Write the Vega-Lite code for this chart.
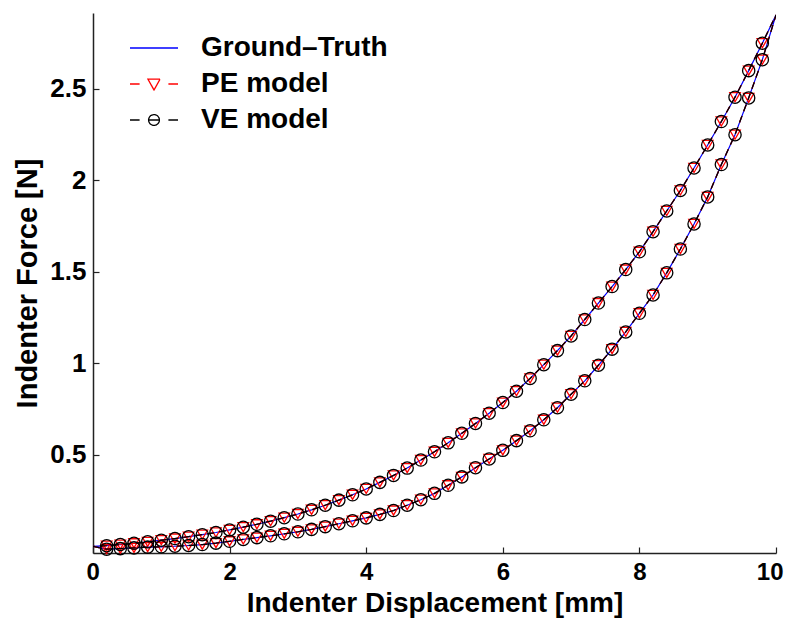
{
  "$schema": "https://vega.github.io/schema/vega-lite/v6.json",
  "width": 683,
  "height": 540,
  "autosize": {"type": "none"},
  "padding": {"left": 93, "top": 13, "right": 24, "bottom": 83},
  "background": "white",
  "config": {
    "view": {"stroke": null},
    "font": "Liberation Sans",
    "axis": {
      "domainColor": "#222222",
      "domainWidth": 1.5,
      "tickColor": "#222222",
      "tickWidth": 1.2,
      "grid": false,
      "labelFont": "Liberation Sans",
      "labelFontWeight": "bold",
      "labelFontSize": 26,
      "labelColor": "black",
      "titleFont": "Liberation Sans",
      "titleFontWeight": "bold",
      "titleFontSize": 28,
      "titleColor": "black"
    }
  },
  "data": {
    "values": [
      {"i": 0, "x": 0.0, "F": 0.000},
      {"i": 1, "x": 0.2, "F": -0.015},
      {"i": 2, "x": 0.4, "F": -0.012},
      {"i": 3, "x": 0.6, "F": -0.008},
      {"i": 4, "x": 0.8, "F": -0.004},
      {"i": 5, "x": 1.0, "F": -0.002},
      {"i": 6, "x": 1.2, "F": 0.001},
      {"i": 7, "x": 1.4, "F": 0.005},
      {"i": 8, "x": 1.6, "F": 0.010},
      {"i": 9, "x": 1.8, "F": 0.018},
      {"i": 10, "x": 2.0, "F": 0.028},
      {"i": 11, "x": 2.2, "F": 0.038},
      {"i": 12, "x": 2.4, "F": 0.048},
      {"i": 13, "x": 2.6, "F": 0.058},
      {"i": 14, "x": 2.8, "F": 0.069},
      {"i": 15, "x": 3.0, "F": 0.080},
      {"i": 16, "x": 3.2, "F": 0.093},
      {"i": 17, "x": 3.4, "F": 0.108},
      {"i": 18, "x": 3.6, "F": 0.124},
      {"i": 19, "x": 3.8, "F": 0.140},
      {"i": 20, "x": 4.0, "F": 0.156},
      {"i": 21, "x": 4.2, "F": 0.175},
      {"i": 22, "x": 4.4, "F": 0.196},
      {"i": 23, "x": 4.6, "F": 0.225},
      {"i": 24, "x": 4.8, "F": 0.255},
      {"i": 25, "x": 5.0, "F": 0.290},
      {"i": 26, "x": 5.2, "F": 0.334},
      {"i": 27, "x": 5.4, "F": 0.380},
      {"i": 28, "x": 5.6, "F": 0.430},
      {"i": 29, "x": 5.8, "F": 0.478},
      {"i": 30, "x": 6.0, "F": 0.525},
      {"i": 31, "x": 6.2, "F": 0.578},
      {"i": 32, "x": 6.4, "F": 0.632},
      {"i": 33, "x": 6.6, "F": 0.692},
      {"i": 34, "x": 6.8, "F": 0.758},
      {"i": 35, "x": 7.0, "F": 0.832},
      {"i": 36, "x": 7.2, "F": 0.905},
      {"i": 37, "x": 7.4, "F": 0.990},
      {"i": 38, "x": 7.6, "F": 1.078},
      {"i": 39, "x": 7.8, "F": 1.172},
      {"i": 40, "x": 8.0, "F": 1.274},
      {"i": 41, "x": 8.2, "F": 1.374},
      {"i": 42, "x": 8.4, "F": 1.495},
      {"i": 43, "x": 8.6, "F": 1.625},
      {"i": 44, "x": 8.8, "F": 1.762},
      {"i": 45, "x": 9.0, "F": 1.910},
      {"i": 46, "x": 9.2, "F": 2.087},
      {"i": 47, "x": 9.4, "F": 2.250},
      {"i": 48, "x": 9.6, "F": 2.451},
      {"i": 49, "x": 9.8, "F": 2.660},
      {"i": 50, "x": 10.0, "F": 2.904},
      {"i": 51, "x": 9.8, "F": 2.750},
      {"i": 52, "x": 9.6, "F": 2.600},
      {"i": 53, "x": 9.4, "F": 2.455},
      {"i": 54, "x": 9.2, "F": 2.322},
      {"i": 55, "x": 9.0, "F": 2.194},
      {"i": 56, "x": 8.8, "F": 2.068},
      {"i": 57, "x": 8.6, "F": 1.945},
      {"i": 58, "x": 8.4, "F": 1.833},
      {"i": 59, "x": 8.2, "F": 1.720},
      {"i": 60, "x": 8.0, "F": 1.610},
      {"i": 61, "x": 7.8, "F": 1.513},
      {"i": 62, "x": 7.6, "F": 1.420},
      {"i": 63, "x": 7.4, "F": 1.330},
      {"i": 64, "x": 7.2, "F": 1.240},
      {"i": 65, "x": 7.0, "F": 1.150},
      {"i": 66, "x": 6.8, "F": 1.070},
      {"i": 67, "x": 6.6, "F": 0.993},
      {"i": 68, "x": 6.4, "F": 0.918},
      {"i": 69, "x": 6.2, "F": 0.848},
      {"i": 70, "x": 6.0, "F": 0.786},
      {"i": 71, "x": 5.8, "F": 0.728},
      {"i": 72, "x": 5.6, "F": 0.672},
      {"i": 73, "x": 5.4, "F": 0.618},
      {"i": 74, "x": 5.2, "F": 0.566},
      {"i": 75, "x": 5.0, "F": 0.517},
      {"i": 76, "x": 4.8, "F": 0.472},
      {"i": 77, "x": 4.6, "F": 0.428},
      {"i": 78, "x": 4.4, "F": 0.388},
      {"i": 79, "x": 4.2, "F": 0.350},
      {"i": 80, "x": 4.0, "F": 0.314},
      {"i": 81, "x": 3.8, "F": 0.282},
      {"i": 82, "x": 3.6, "F": 0.253},
      {"i": 83, "x": 3.4, "F": 0.225},
      {"i": 84, "x": 3.2, "F": 0.200},
      {"i": 85, "x": 3.0, "F": 0.177},
      {"i": 86, "x": 2.8, "F": 0.157},
      {"i": 87, "x": 2.6, "F": 0.138},
      {"i": 88, "x": 2.4, "F": 0.121},
      {"i": 89, "x": 2.2, "F": 0.105},
      {"i": 90, "x": 2.0, "F": 0.090},
      {"i": 91, "x": 1.8, "F": 0.076},
      {"i": 92, "x": 1.6, "F": 0.064},
      {"i": 93, "x": 1.4, "F": 0.053},
      {"i": 94, "x": 1.2, "F": 0.043},
      {"i": 95, "x": 1.0, "F": 0.034},
      {"i": 96, "x": 0.8, "F": 0.025},
      {"i": 97, "x": 0.6, "F": 0.017},
      {"i": 98, "x": 0.4, "F": 0.010},
      {"i": 99, "x": 0.2, "F": 0.004},
      {"i": 100, "x": 0.0, "F": 0.000}
    ]
  },
  "encoding": {
    "x": {
      "field": "x", "type": "quantitative",
      "scale": {"domain": [0, 10], "nice": false, "zero": false},
      "axis": {"title": "Indenter Displacement [mm]", "values": [0, 2, 4, 6, 8, 10], "format": "d", "tickSize": -6, "labelFontSize": 24, "labelPadding": 13, "labelFlush": true, "labelFlushOffset": 7, "titlePadding": 5}
    },
    "y": {
      "field": "F", "type": "quantitative",
      "scale": {"domain": [-0.036, 2.915], "nice": false, "zero": false},
      "axis": {"title": "Indenter Force [N]", "values": [0.5, 1, 1.5, 2, 2.5], "format": "~g", "tickSize": -6, "labelPadding": 13, "titlePadding": 7, "titleFontSize": 29}
    },
    "order": {"field": "i", "type": "quantitative"}
  },
  "layer": [
    {
      "mark": {"type": "line", "strokeWidth": 1.2, "clip": true},
      "encoding": {
        "color": {
          "datum": "Ground–Truth",
          "type": "nominal",
          "scale": {"domain": ["Ground–Truth", "PE model", "VE model"], "range": ["#0000ff", "#ff0000", "#000000"]},
          "legend": {
            "title": null,
            "orient": "none",
            "legendX": 47,
            "legendY": 21,
            "padding": 0,
            "symbolSize": 576,
            "symbolStrokeWidth": 1.3,
            "symbolFillColor": "transparent",
            "labelFont": "Liberation Sans",
            "labelFontWeight": "bold",
            "labelFontSize": 28,
            "labelColor": "black",
            "labelLimit": 0,
            "labelOffset": 33,
            "rowPadding": 8,
            "encode": {
              "symbols": {
                "update": {
                  "shape": {"signal": "datum.value === 'Ground–Truth' ? 'M-2,0H2' : datum.value === 'PE model' ? 'M-2,0H-1.2M1.2,0H2M-0.5,-0.4H0.5L0,0.5Z' : 'M-2,0H-1.2M1.2,0H2M0.45,0A0.45,0.45,0,1,1,-0.45,0A0.45,0.45,0,1,1,0.45,0M-0.45,0H0.45'"},
                  "fill": {"value": "transparent"},
                  "stroke": {"scale": "color", "field": "value"},
                  "strokeWidth": {"value": 1.3},
                  "strokeDash": {"value": [1, 0]}
                }
              }
            }
          }
        }
      }
    },
    {
      "mark": {"type": "line", "strokeWidth": 1.2, "strokeDash": [7, 5], "clip": true},
      "encoding": {"color": {"datum": "PE model", "type": "nominal"}}
    },
    {
      "transform": [{"filter": "datum.x > 0.1 && datum.x < 9.9"}],
      "mark": {"type": "point", "shape": "triangle-down", "filled": false, "size": 110, "strokeWidth": 1.3, "opacity": 1},
      "encoding": {"color": {"datum": "PE model", "type": "nominal"}}
    },
    {
      "mark": {"type": "line", "strokeWidth": 1.3, "strokeDash": [7, 5], "clip": true},
      "encoding": {"color": {"datum": "VE model", "type": "nominal"}}
    },
    {
      "transform": [{"filter": "datum.x > 0.1 && datum.x < 9.9"}],
      "mark": {"type": "point", "shape": "circle", "filled": false, "size": 150, "strokeWidth": 1.3, "opacity": 1},
      "encoding": {"color": {"datum": "VE model", "type": "nominal"}}
    }
  ]
}
